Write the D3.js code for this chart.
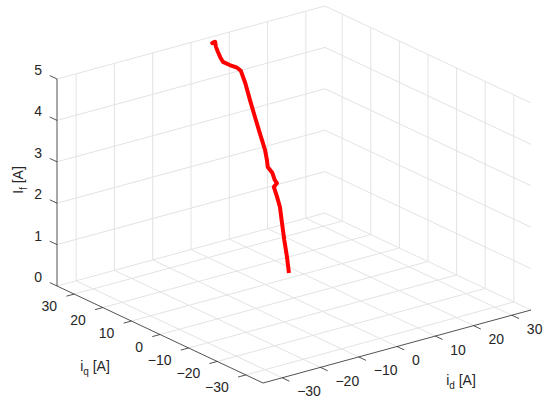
<!DOCTYPE html>
<html><head><meta charset="utf-8">
<script src="https://cdn.jsdelivr.net/npm/d3@7"></script>
<style>body{margin:0;background:#fff}text{font-family:"Liberation Sans",Arial,sans-serif;fill:#262626}</style>
</head><body>
<svg id="c" width="550" height="406"></svg>
<script>
// axis ticks
const idTicks = [-30,-20,-10,0,10,20,30];
const iqTicks = [-30,-20,-10,0,10,20,30];
const zTicks = [0,1,2,3,4,5];
// trajectory (id, iq, If)
const idVals = [-0.8,0.1,0.9,1.8,2.6,2.9,3.1,3.9,3.8,3.9,3.6,4.0,4.4,4.8,5.2,5.6,6.1,6.3,5.9,4.9,4.0,3.9,3.9,3.9,4.2,3.6,4.3];
const iqVals = [0.7,2.6,4.6,6.6,8.4,9.8,11.2,11.2,11.8,12.8,14.0,14.8,16.0,18.4,20.6,22.9,25.2,27.0,27.8,29.0,30.2,31.0,31.8,32.5,33.2,33.4,33.3];
const ifVals = [0.60,0.91,1.23,1.55,1.86,2.05,2.24,2.31,2.37,2.51,2.62,2.75,2.94,3.27,3.57,3.90,4.22,4.45,4.51,4.56,4.62,4.71,4.81,4.91,5.00,4.98,5.00];

const idLim=[-35,35], iqLim=[-36,36], zLim=[0,5];
const F=[263,383], R=[531,310], L=[57,286], H=207;
const sx=d3.scaleLinear().domain(idLim).range([0,1]);
const sy=d3.scaleLinear().domain(iqLim).range([0,1]);
const sz=d3.scaleLinear().domain(zLim).range([0,H]);
function P(id,iq,z){const t=sx(id),s=sy(iq);
 return [F[0]+t*(R[0]-F[0])+s*(L[0]-F[0]), F[1]+t*(R[1]-F[1])+s*(L[1]-F[1])-sz(z)];}
const svg=d3.select("#c");
const grid=svg.append("g").attr("stroke","#e3e3e3").attr("stroke-width",1).attr("fill","none");
function seg(g,a,b){g.append("line").attr("x1",a[0]).attr("y1",a[1]).attr("x2",b[0]).attr("y2",b[1]);}
// floor
idTicks.forEach(v=>seg(grid,P(v,iqLim[0],0),P(v,iqLim[1],0)));
iqTicks.forEach(v=>seg(grid,P(idLim[0],v,0),P(idLim[1],v,0)));
// back-left wall (iq = max)
idTicks.forEach(v=>seg(grid,P(v,iqLim[1],0),P(v,iqLim[1],5)));
zTicks.forEach(v=>seg(grid,P(idLim[0],iqLim[1],v),P(idLim[1],iqLim[1],v)));
// back-right wall (id = max)
iqTicks.forEach(v=>seg(grid,P(idLim[1],v,0),P(idLim[1],v,5)));
zTicks.forEach(v=>seg(grid,P(idLim[1],iqLim[1],v),P(idLim[1],iqLim[0],v)));

// axes
const ax=svg.append("g").attr("stroke","#262626").attr("stroke-width",0.8);
seg(ax,P(idLim[0],iqLim[1],0),P(idLim[0],iqLim[1],5));
seg(ax,P(idLim[0],iqLim[1],0),P(idLim[0],iqLim[0],0));
seg(ax,P(idLim[0],iqLim[0],0),P(idLim[1],iqLim[0],0));
const tl=8;
function unit(a,b){const dx=b[0]-a[0],dy=b[1]-a[1],n=Math.hypot(dx,dy);return [dx/n,dy/n];}
const dirIq=unit(P(0,0,0),P(0,10,0)); // +iq
const dirId=unit(P(0,0,0),P(10,0,0)); // +id
const tx=svg.append("g").style("font-size","14px");
zTicks.forEach(v=>{const p=P(idLim[0],iqLim[1],v);seg(ax,p,[p[0]+dirIq[0]*tl,p[1]+dirIq[1]*tl]);
 tx.append("text").attr("x",p[0]-15).attr("y",p[1]-9).attr("text-anchor","end").attr("dominant-baseline","central").text(v);});
idTicks.forEach(v=>{const p=P(v,iqLim[0],0);seg(ax,p,[p[0]-dirIq[0]*tl,p[1]-dirIq[1]*tl]);
 tx.append("text").attr("x",p[0]+15).attr("y",p[1]+13.5).attr("text-anchor","start").attr("dominant-baseline","central").text(v<0?"\u2212"+(-v):v);});
iqTicks.forEach(v=>{const p=P(idLim[0],v,0);seg(ax,p,[p[0]-dirId[0]*tl,p[1]-dirId[1]*tl]);
 tx.append("text").attr("x",p[0]-17).attr("y",p[1]+12).attr("text-anchor","end").attr("dominant-baseline","central").text(v<0?"\u2212"+(-v):v);});

// axis labels
const lz=tx.append("text").attr("transform","translate(23,180) rotate(-90)").attr("text-anchor","middle");
lz.append("tspan").text("I");lz.append("tspan").attr("dy",4).style("font-size","10px").text("f");lz.append("tspan").attr("dy",-4).text(" [A]");
const lq=tx.append("text").attr("x",95).attr("y",371).attr("text-anchor","middle");
lq.append("tspan").text("i");lq.append("tspan").attr("dy",4).style("font-size","10px").text("q");lq.append("tspan").attr("dy",-4).text(" [A]");
const ld=tx.append("text").attr("x",461).attr("y",385).attr("text-anchor","middle");
ld.append("tspan").text("i");ld.append("tspan").attr("dy",4).style("font-size","10px").text("d");ld.append("tspan").attr("dy",-4).text(" [A]");

// trajectory
const pts=idVals.map((d,i)=>P(d,iqVals[i],ifVals[i]));
svg.append("path").attr("d",d3.line()(pts)).attr("fill","none").attr("stroke","#ff0000").attr("stroke-width",4).attr("stroke-linejoin","round");
</script>
</body></html>
